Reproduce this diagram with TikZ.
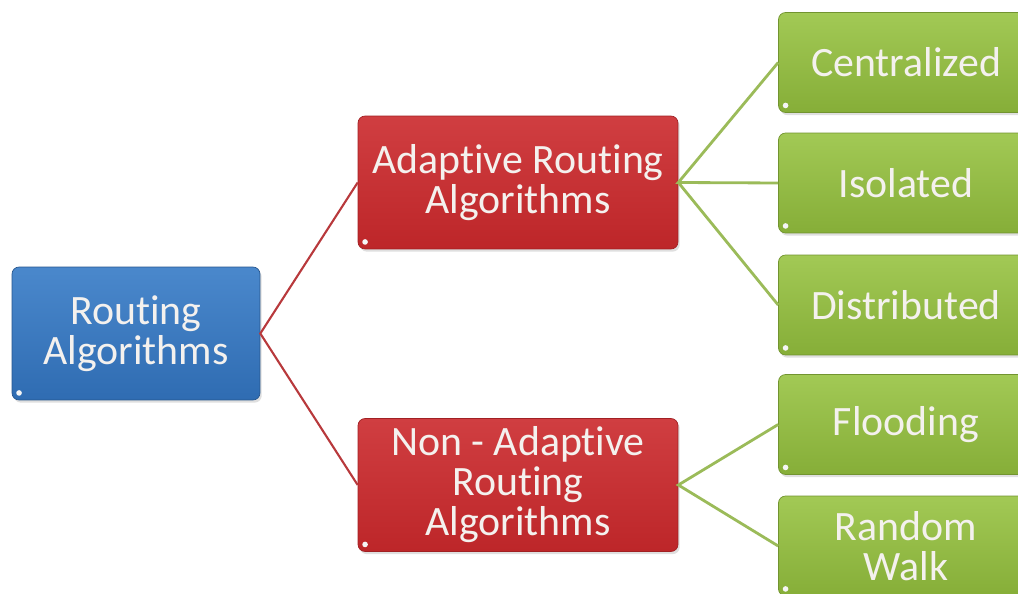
\documentclass[tikz,border=0pt]{standalone}
\usepackage{fontspec}
\setmainfont{Carlito}[Ligatures=NoCommon]
\usetikzlibrary{shadows}
\definecolor{rootblue}{HTML}{2F6CB2}
\definecolor{rootbluetop}{HTML}{4A88CC}
\definecolor{algred}{HTML}{BD2629}
\definecolor{algredtop}{HTML}{D03E41}
\definecolor{leafgreen}{HTML}{86AE38}
\definecolor{leafgreentop}{HTML}{A2C955}
\definecolor{redline}{HTML}{B8393C}
\definecolor{greenline}{HTML}{9BBB59}
\definecolor{boxtext}{HTML}{F4F1EE}

\tikzset{
  box/.style={rounded corners=4pt, align=center, text=boxtext,
    font=\fontsize{23.8}{22.8}\selectfont,
    drop shadow={opacity=0.25, shadow xshift=1pt, shadow yshift=-1.5pt},
    path picture={\fill[white!92!gray] ([shift={(4pt,4pt)}]path picture bounding box.south west) circle (1.6pt);}},
  rootbox/.style={box, top color=rootbluetop, bottom color=rootblue, draw=rootblue!80!black,
    minimum width=4.96cm, minimum height=2.66cm},
  midbox/.style={box, top color=algredtop, bottom color=algred, draw=algred!85!black,
    minimum width=6.4cm, minimum height=2.66cm},
  leafbox/.style={box, top color=leafgreentop, bottom color=leafgreen, draw=leafgreen!85!black,
    minimum width=5.1cm, minimum height=2cm},
  redlink/.style={draw=redline, line width=1.2pt},
  greenlink/.style={draw=greenline, line width=1.6pt}
}

\begin{document}
\begin{tikzpicture}[x=0.02cm, y=-0.02cm]
  \useasboundingbox (0,0) rectangle (1018,594);
  \clip (0,0) rectangle (1018,594);

  \node[rootbox] (root) at (136,333.5) {Routing\\Algorithms};
  \node[midbox] (adapt) at (518,182.5) {Adaptive Routing\\Algorithms};
  \node[midbox] (nonadapt) at (518,485) {Non - Adaptive\\Routing\\Algorithms};

  \node[leafbox] (central) at (906,62.5) {Centralized};
  \node[leafbox] (isolated) at (906,183) {Isolated};
  \node[leafbox] (distrib) at (906,305) {Distributed};
  \node[leafbox] (flood) at (906,424.5) {Flooding};
  \node[leafbox] (random) at (906,546) {Random\\Walk};

  % links
  \draw[redlink] (adapt.west) -- (root.east) -- (nonadapt.west);
  \draw[greenlink] (central.west) -- (adapt.east) -- (isolated.west);
  \draw[greenlink] (adapt.east) -- (distrib.west);
  \draw[greenlink] (flood.west) -- (nonadapt.east) -- (random.west);
\end{tikzpicture}
\end{document}
